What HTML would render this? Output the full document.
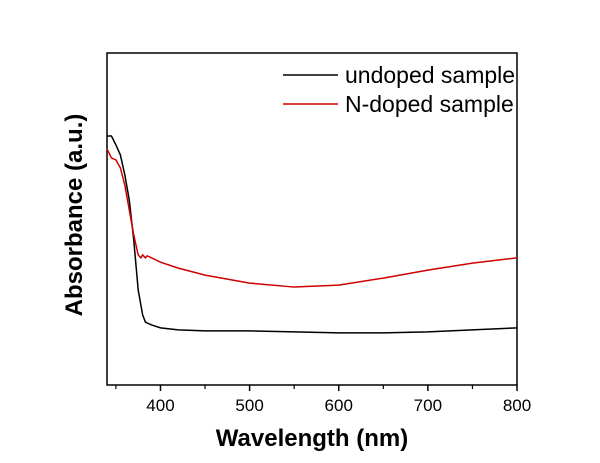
<!DOCTYPE html>
<html><head><meta charset="utf-8"><style>
body{margin:0;background:#fff}
svg{display:block;font-family:"Liberation Sans",Arial,sans-serif}
</style></head><body>
<svg width="600" height="463" viewBox="0 0 600 463">
<g id="plot"></g>
</svg>
<script>
const wavelengths=[340,345,350,355,360,365,370,375,378,380,383,385,390,400,420,450,500,550,600,650,700,750,800];
const undoped=[75.0,75.0,72.3,69.3,63.3,55.7,43.7,28.6,24.1,21.1,19.0,18.7,18.1,17.2,16.6,16.3,16.3,16.0,15.7,15.7,16.0,16.6,17.2];
const nDoped=[71.1,68.4,67.8,65.4,60.2,52.7,45.2,39.2,38.3,39.2,38.3,38.9,38.3,37.0,35.2,33.1,30.7,29.5,30.1,32.2,34.6,36.7,38.3];
const xTicks=[400,500,600,700,800];
const minorTicks=[350,450,550,650,750];
const seriesNames=["undoped sample","N-doped sample"];
const L=107,R=517,T=53,B=385;
const x=v=>L+(v-340)/(800-340)*(R-L);
const y=v=>B-v/100*(B-T);
const NS="http://www.w3.org/2000/svg";
const g=document.getElementById('plot');
function mk(t,a){const e=document.createElementNS(NS,t);for(const k in a)e.setAttribute(k,a[k]);g.appendChild(e);return e;}
const frame=mk('rect',{x:L,y:T,width:R-L,height:B-T,fill:'none',stroke:'#000','stroke-width':1.5});


xTicks.forEach(t=>{
 const l=mk('line',{x1:x(t),x2:x(t),y1:B,y2:B+6,stroke:'#000','stroke-width':1.5});
 
 
 const tx=mk('text',{x:x(t),y:B+26,'text-anchor':'middle','font-size':17});
 tx.textContent=t;
 
 
});
minorTicks.forEach(t=>{
 const l=mk('line',{x1:x(t),x2:x(t),y1:B,y2:B+4,stroke:'#000','stroke-width':1.2});
 
 
});
function line(vals,color,name){
 const p=mk('polyline',{points:wavelengths.map((w,i)=>x(w)+','+y(vals[i])).join(' '),fill:'none',stroke:color,'stroke-width':1.5});
 
 
}
line(undoped,'#000','undoped-line');
line(nDoped,'#d00000','n-doped-line');
[['#000',75],['#d00000',104]].forEach((c,i)=>{
 const l=mk('line',{x1:283,x2:338,y1:c[1],y2:c[1],stroke:c[0],'stroke-width':1.5});
 
 
 const tx=mk('text',{x:345,y:c[1]+8,'font-size':23});
 tx.textContent=seriesNames[i];
 
 
});
const xl=mk('text',{x:312,y:446,'text-anchor':'middle','font-size':24,'font-weight':'bold'});
xl.textContent='Wavelength (nm)';


const yl=mk('text',{x:0,y:0,transform:'translate(82,215) rotate(-90)','text-anchor':'middle','font-size':24,'font-weight':'bold'});
yl.textContent='Absorbance (a.u.)';


</script>
</body></html>
